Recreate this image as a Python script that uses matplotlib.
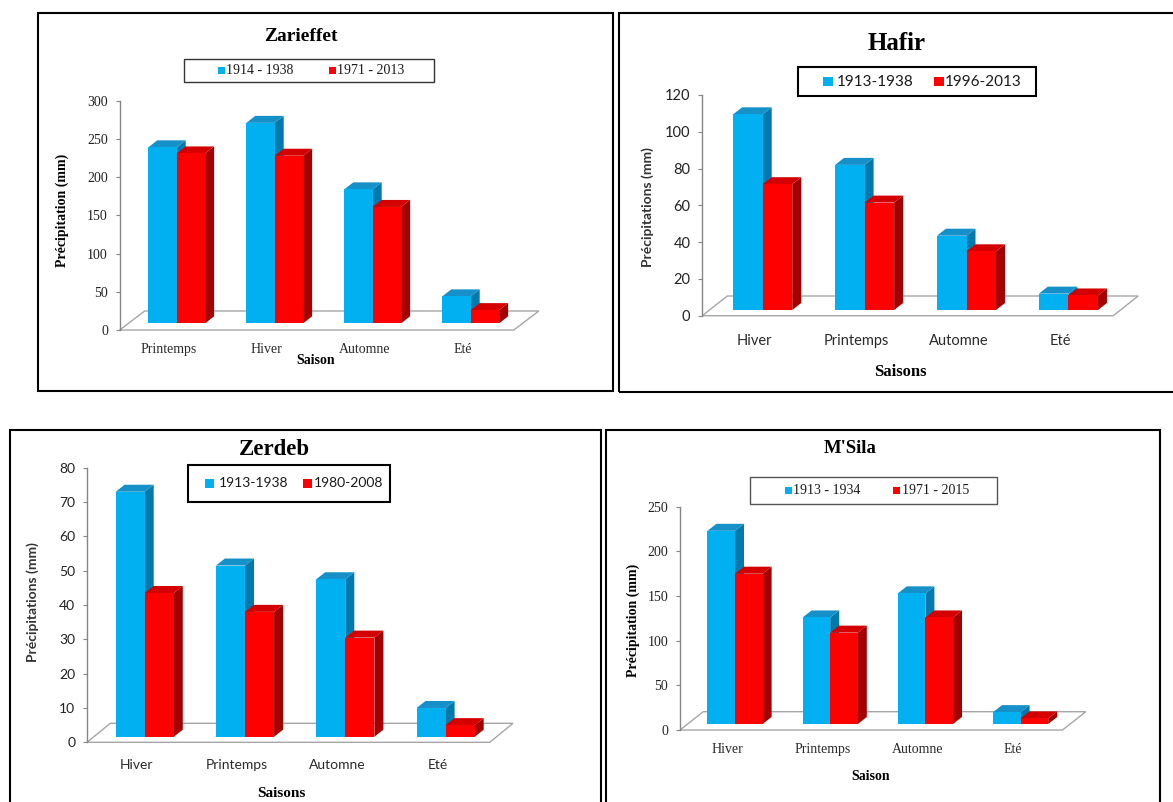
import numpy as np
import matplotlib.pyplot as plt
from matplotlib.patches import Polygon, Rectangle

W, H = 1173, 802
SERIF = "Liberation Serif"
SANS = "Lato"

# Zarieffet
zar_seasons = ["Printemps", "Hiver", "Automne", "Eté"]
zar_1914_1938 = [239, 271, 184, 44]
zar_1971_2013 = [231, 228, 161, 26]

# Hafir
haf_seasons = ["Hiver", "Printemps", "Automne", "Eté"]
haf_1913_1938 = [109.5, 82, 43.5, 12]
haf_1996_2013 = [71.5, 61.5, 35, 11]

# Zerdeb
zer_seasons = ["Hiver", "Printemps", "Automne", "Eté"]
zer_1913_1938 = [73, 51.5, 47.5, 10]
zer_1980_2008 = [43.5, 38, 30.5, 5]

# M'Sila
msi_seasons = ["Hiver", "Printemps", "Automne", "Eté"]
msi_1913_1934 = [223, 126, 153, 20]
msi_1971_2015 = [175, 109, 126, 13]

BLUE = ("#00B0F0", "#1590C8", "#0079AD")   # front, top, side
RED = ("#FF0000", "#D40000", "#A50000")
GRID = "#A6A6A6"

fig = plt.figure(figsize=(W / 100, H / 100), dpi=100)


def fx(x):
    return x / W


def fy(y):
    return 1 - y / H


def box(x0, y0, x1, y1, lw=1.5, ec="black"):
    fig.patches.append(Rectangle((fx(x0), fy(y1)), (x1 - x0) / W, (y1 - y0) / H,
                                 transform=fig.transFigure, fill=False,
                                 lw=lw, ec=ec, zorder=5))


def square(x, yc, s, color):
    fig.patches.append(Rectangle((fx(x), fy(yc + s / 2)), s / W, s / H,
                                 transform=fig.transFigure, fc=color, ec="none"))


def bar3d(ax, x0, x1, b, t, cols, dx, dy):
    ax.add_patch(Polygon([(x1, b), (x1 + dx, b + dy), (x1 + dx, t + dy), (x1, t)],
                         fc=cols[2], ec="none", zorder=3, clip_on=False))
    ax.add_patch(Polygon([(x0, t), (x1, t), (x1 + dx, t + dy), (x0 + dx, t + dy)],
                         fc=cols[1], ec="none", zorder=3, clip_on=False))
    ax.add_patch(Rectangle((x0, b), x1 - x0, t - b, fc=cols[0], ec="none",
                           zorder=3, clip_on=False))


def panel(seasons, old, new, ymax, ystep, axis_x, y0, ytop, c0, sp,
          tick_font, tick_size, cat_pad, floor=(25, 19), base_px=6):
    xl0 = (axis_x - c0) / sp
    xl1 = 3.75
    ax = fig.add_axes([fx(axis_x), fy(y0), (xl1 - xl0) * sp / W, (y0 - ytop) / H])
    ax.set_xlim(xl0, xl1)
    ax.set_ylim(0, ymax)
    ax.patch.set_visible(False)
    for s in ("top", "right", "bottom"):
        ax.spines[s].set_visible(False)
    ax.spines["left"].set_color("#868686")
    ax.spines["left"].set_linewidth(1)

    ux = 1 / sp
    uy = ymax / (y0 - ytop)

    # floor of the 3D plot area
    fdx, fdy = floor[0] * ux, floor[1] * uy
    ax.add_patch(Polygon([(xl0, 0), (3.44, 0), (3.44 + fdx, fdy), (xl0 + fdx, fdy)],
                         closed=True, fc="white", ec=GRID, lw=1, zorder=1,
                         clip_on=False))

    w = 0.29
    dx, dy = 9 * ux, 7 * uy
    base = base_px * uy
    for i in range(len(seasons)):
        bar3d(ax, i - w, i, base, old[i], BLUE, dx, dy)
        bar3d(ax, i, i + w, base, new[i], RED, dx, dy)

    ax.set_yticks(np.arange(0, ymax + ystep / 2, ystep))
    ax.tick_params(axis="y", length=3, color="#868686", pad=5.5,
                   labelsize=tick_size, labelcolor="#222222")
    for lab in ax.get_yticklabels():
        lab.set_family(tick_font)

    ax.set_xticks(np.arange(len(seasons)) - 8 * ux)
    ax.set_xticklabels(seasons, family=tick_font, fontsize=tick_size,
                       color="#2a2a2a")
    ax.tick_params(axis="x", length=0, pad=cat_pad)
    return ax


def legend(x0, y0, x1, y1, items, sq, font, size, lw, ec):
    box(x0, y0, x1, y1, lw=lw, ec=ec)
    yc = (y0 + y1) / 2
    for (sx, tx, label, col) in items:
        square(sx, yc, sq, col)
        fig.text(fx(tx), fy(yc), label, family=font, fontsize=size,
                 va="center", ha="left", color="#1a1a1a")


# panel frames
box(38.3, 13.3, 612.7, 390.7)
box(619, 12.7, 1180, 392.3)
box(10, 430, 600.7, 810)
box(606, 430, 1160, 810)

# Zarieffet
panel(zar_seasons, zar_1914_1938, zar_1971_2013, 300, 50,
      119.7, 330, 100.7, 176.7, 98, SERIF, 10, 9.5, floor=(25, 19), base_px=6.7)
fig.text(fx(301), fy(36.7), "Zarieffet", family=SERIF, weight="bold",
         fontsize=14, ha="center", va="center")
legend(183.7, 59.3, 433.7, 82.3,
       [(218, 226.3, "1914 - 1938", BLUE[0]), (328.7, 337, "1971 - 2013", RED[0])],
       7, SERIF, 10, 1, "#333333")
fig.text(fx(62), fy(210), "Précipitation (mm)", family=SERIF, weight="bold",
         fontsize=10, rotation=90, ha="center", va="center")
fig.text(fx(316), fy(361), "Saison", family=SERIF, weight="bold",
         fontsize=10, ha="center", va="center")

# Hafir
panel(haf_seasons, haf_1913_1938, haf_1996_2013, 120, 20,
      702.3, 315.7, 95, 762.7, 101.9, SANS, 10.5, 13, floor=(25, 19.7), base_px=5.7)
fig.text(fx(896.7), fy(43.3), "Hafir", family=SERIF, weight="bold",
         fontsize=18, ha="center", va="center")
legend(798.3, 67.3, 1035.7, 96,
       [(823.3, 836.7, "1913-1938", BLUE[0]), (934.3, 945, "1996-2013", RED[0])],
       9.5, SANS, 11, 1.5, "black")
fig.text(fx(647.3), fy(206.7), "Précipitations (mm)", family=SANS, weight="bold",
         fontsize=10, rotation=90, ha="center", va="center", color="#333333")
fig.text(fx(900), fy(371.7), "Saisons", family=SERIF, weight="bold",
         fontsize=12, ha="center", va="center")

# Zerdeb
panel(zer_seasons, zer_1913_1938, zer_1980_2008, 80, 10,
      87, 742.3, 467.7, 144.7, 100.3, SANS, 10, 12, floor=(23.3, 19), base_px=5.6)
fig.text(fx(274.5), fy(449), "Zerdeb", family=SERIF, weight="bold",
         fontsize=16.5, ha="center", va="center")
legend(188, 465, 390.3, 501.7,
       [(204.7, 219, "1913-1938", BLUE[0]), (303, 314, "1980-2008", RED[0])],
       9, SANS, 10, 1.5, "black")
fig.text(fx(33), fy(601.7), "Précipitations (mm)", family=SANS, weight="bold",
         fontsize=10, rotation=90, ha="center", va="center", color="#333333")
fig.text(fx(281.3), fy(793.3), "Saisons", family=SERIF, weight="bold",
         fontsize=11, ha="center", va="center")

# M'Sila
panel(msi_seasons, msi_1913_1934, msi_1971_2015, 250, 50,
      680, 730, 506.7, 735, 95.2, SERIF, 10, 9.5, floor=(23.3, 18.3), base_px=6)
fig.text(fx(850), fy(448.3), "M'Sila", family=SERIF, weight="bold",
         fontsize=13.5, ha="center", va="center")
legend(750, 476.7, 996.7, 504,
       [(785, 793.3, "1913 - 1934", BLUE[0]), (893.3, 901.7, "1971 - 2015", RED[0])],
       7, SERIF, 10, 1, "#555555")
fig.text(fx(633), fy(620), "Précipitation (mm)", family=SERIF, weight="bold",
         fontsize=10, rotation=90, ha="center", va="center")
fig.text(fx(870.7), fy(776), "Saison", family=SERIF, weight="bold",
         fontsize=10, ha="center", va="center")

fig.savefig("out.png", dpi=100)
